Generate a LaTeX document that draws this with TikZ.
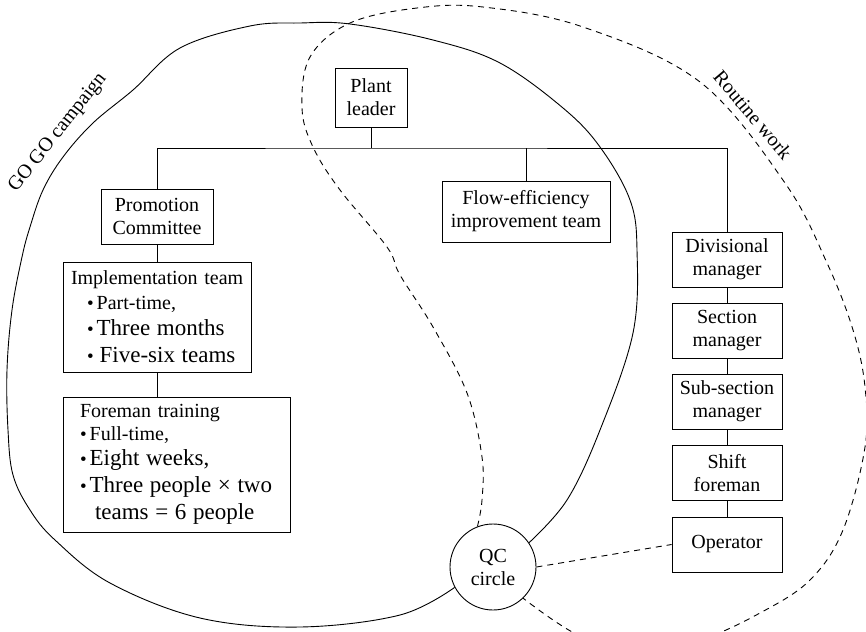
\documentclass[tikz,border=0pt]{standalone}
\usepackage{fontspec}
\setmainfont{Liberation Serif}
\begin{document}
\begin{tikzpicture}[x=1pt,y=-1pt,
  txt/.style={font=\fontsize{20}{23}\selectfont},
  box/.style={draw, line width=0.9pt, align=center, inner sep=0pt, txt},
  listbox/.style={draw, line width=0.9pt, align=left, inner ysep=0pt,
    font=\fontsize{20}{25}\selectfont},
  rung/.style={box, minimum width=110pt, minimum height=55pt},
  link/.style={line width=0.9pt},
  zone/.style={line width=0.9pt},
  zonedash/.style={line width=0.9pt, dash pattern=on 6pt off 5pt}]
\newcommand{\bul}{\raisebox{0.5pt}{\fontsize{19}{19}\selectfont •}\hspace{3pt}}
\newcommand{\bigsz}{\fontsize{23}{25}\selectfont}
\useasboundingbox (0,0) rectangle (866,631);
\clip (0,0) rectangle (866,631);

% organisation boxes
\node[box, minimum width=72pt, minimum height=59pt] (plant) at (371,97.5) {Plant\\leader};
\node[box, minimum width=112pt, minimum height=55pt] (prom) at (157,216.5) {Promotion\\Committee};
\node[box, minimum width=168pt, minimum height=61pt] (flow) at (526,211.5) {Flow-efficiency\\improvement team};
\node[listbox, inner xsep=4pt, text width=180pt, minimum height=110pt] (impl) at (157,317)
  {\hspace*{4pt}Implementation team\\
   \hspace*{20pt}\bul Part-time,\\[1pt]
   \hspace*{20pt}\bul{\bigsz Three months}\\[2pt]
   \hspace*{20pt}\bul\hspace{3pt}{\bigsz Five-six teams}};
\node[listbox, inner xsep=14pt, text width=199pt, minimum height=135pt] (fore) at (176.5,464.5)
  {\hspace*{3pt}Foreman training\\[-2pt]
   \hspace*{3pt}\bul Full-time,\\
   \hspace*{3pt}\bul{\bigsz Eight weeks,}\\[2pt]
   \hspace*{3pt}\bul{\bigsz Three people × two}\\[2pt]
   \hspace*{18pt}{\bigsz teams = 6 people}};
\node[rung] (div) at (727,259.5) {Divisional\\manager};
\node[rung] (sec) at (727,330.5) {Section\\manager};
\node[rung] (sub) at (727,401.5) {Sub-section\\manager};
\node[rung] (shift) at (727,473) {Shift\\foreman};
\node[rung] (op) at (727,544.5) {Operator};
\node[draw, circle, line width=0.9pt, minimum size=86pt, inner sep=0pt, align=center, txt] (qc) at (493,567) {QC\\circle};

% tree connectors
\coordinate (bar) at (371,148);
\draw[link] (plant.south) -- (bar);
\draw[link] (prom.north) |- (bar) -| (div.north);
\draw[link] (flow.north) -- (flow.north |- bar);
\draw[link] (prom.south) -- (impl.north);
\draw[link] (impl.south) -- (impl.south |- fore.north);
\draw[link] (div.south) -- (sec.north);
\draw[link] (sec.south) -- (sub.north);
\draw[link] (sub.south) -- (shift.north);
\draw[link] (shift.south) -- (op.north);
\draw[zonedash] (qc.east) -- (op.west);

% GO GO campaign boundary
\draw[zone] plot[smooth, tension=0.6] coordinates {
  (qc.34) (567,500) (600,430) (633,333) (637,250) (630,200) (600,147) (563,108)
  (500,63) (433,40) (350,24) (300,23) (250,26) (180,48) (133,90) (93,123)
  (63,157) (43,190) (30,227) (22,257) (12,310) (7,370) (8,430) (13,475)
  (30,510) (55,540) (110,583) (200,618) (300,627) (400,615) (qc.208)};

% routine work boundary
\draw[zonedash] plot[smooth, tension=0.6] coordinates {
  (qc.111) (482,500) (482,457) (467,393) (433,327) (400,275) (387,247)
  (340,190) (313,147) (302,108) (310,57) (350,23) (417,8) (483,7) (583,27)
  (700,82) (785,183) (827,263) (853,330) (865,387) (865,447) (843,530)
  (810,580) (760,613) (700,640) (640,650) (580,636) (qc.-46)};

% zone labels
\node[txt, rotate=51.7] (golabel) at (58,133) {GO GO campaign};
\node[txt, rotate=-49.7] (routlabel) at (753,115) {Routine work};
\end{tikzpicture}
\end{document}
